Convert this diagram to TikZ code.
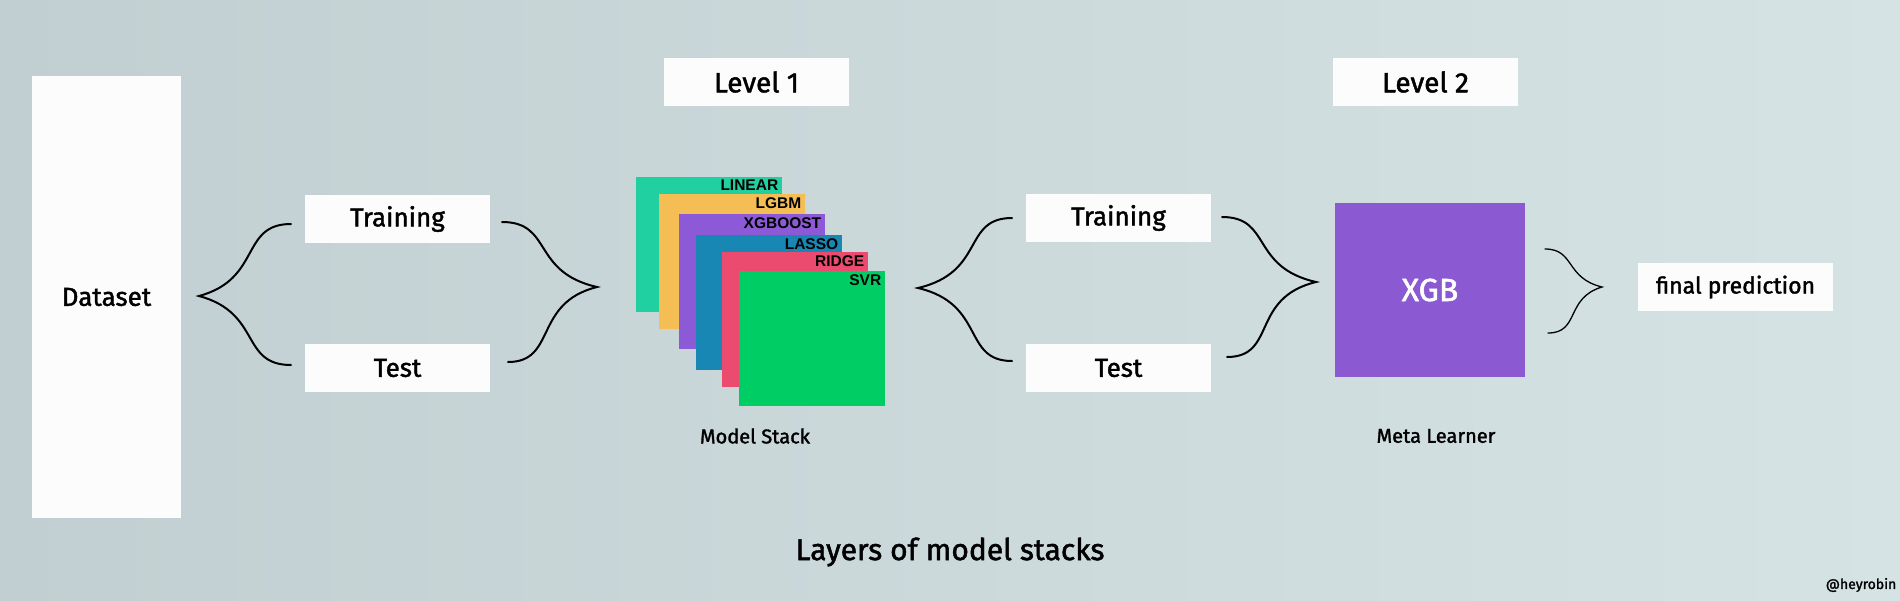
\documentclass[tikz,border=0pt]{standalone}
\usepackage{fontspec}
\setmainfont{Fira Sans}
\newfontfamily\hand[FakeBold=1.6]{Fira Sans}
\newfontfamily\lab{Liberation Sans}
\definecolor{bgL}{RGB}{193,207,210}
\definecolor{bgR}{RGB}{214,227,228}
\definecolor{boxw}{RGB}{252,252,252}
\definecolor{cLinear}{RGB}{32,208,160}
\definecolor{cLgbm}{RGB}{245,190,85}
\definecolor{cXgboost}{RGB}{140,90,215}
\definecolor{cLasso}{RGB}{25,135,180}
\definecolor{cRidge}{RGB}{235,75,110}
\definecolor{cSvr}{RGB}{0,205,100}
\definecolor{cXgb}{RGB}{139,90,210}
\tikzset{
  wbox/.style={rectangle, fill=boxw, inner sep=0pt, minimum width=185pt, minimum height=48pt, font=\hand\fontsize{26}{30}\selectfont},
  card/.style={rectangle, inner sep=0pt, minimum width=146pt, minimum height=135pt, anchor=north west},
  cardlab/.style={anchor=north east, inner sep=0pt, font=\lab\bfseries\fontsize{15.5}{17}\selectfont},
  brace/.style={draw=black, line width=2pt, line cap=round},
  sbrace/.style={draw=black, line width=1.3pt, line cap=round},
  caption/.style={inner sep=0pt, font=\hand\fontsize{20}{24}\selectfont}
}
\begin{document}
\begin{tikzpicture}[x=1pt,y=-1pt]
\useasboundingbox (0,0) rectangle (1900,600);
\shade[left color=bgL, right color=bgR] (0,0) rectangle (1900,600);

% white boxes
\node[wbox, minimum width=149pt, minimum height=442pt] (dataset) at (106.5,297) {Dataset};
\node[wbox] (train1) at (397.5,219) {Training};
\node[wbox] (test1) at (397.5,368) {Test};
\node[wbox, font=\hand\fontsize{28}{32}\selectfont] (level1) at (756.5,82) {Level 1};
\node[wbox, font=\hand\fontsize{28}{32}\selectfont] (level2) at (1425.5,82) {Level 2};
\node[wbox] (train2) at (1118.5,218) {Training};
\node[wbox] (test2) at (1118.5,368) {Test};
\node[rectangle, fill=cXgb, inner sep=0pt, minimum width=190pt, minimum height=174pt, text=white, font=\hand\fontsize{32}{36}\selectfont] (xgb) at (1430,290) {XGB};
\node[wbox, minimum width=195pt, font=\hand\fontsize{23}{27}\selectfont] (final) at (1735.5,287) {final prediction};

% model stack cards
\node[card, fill=cLinear] (linear) at (636,177) {};
\node[cardlab] at ([xshift=-4pt,yshift=-3pt]linear.north east) {LINEAR};
\node[card, fill=cLgbm] (lgbm) at (659,194) {};
\node[cardlab] at ([xshift=-4pt,yshift=-3pt]lgbm.north east) {LGBM};
\node[card, fill=cXgboost] (xgboost) at (679,214) {};
\node[cardlab] at ([xshift=-4pt,yshift=-3pt]xgboost.north east) {XGBOOST};
\node[card, fill=cLasso] (lasso) at (696,235) {};
\node[cardlab] at ([xshift=-4pt,yshift=-3pt]lasso.north east) {LASSO};
\node[card, fill=cRidge] (ridge) at (722,252) {};
\node[cardlab] at ([xshift=-4pt,yshift=-3pt]ridge.north east) {RIDGE};
\node[card, fill=cSvr] (svr) at (739,271) {};
\node[cardlab] at ([xshift=-4pt,yshift=-3pt]svr.north east) {SVR};

% captions
\node[caption] (mstack) at (755,436) {Model Stack};
\node[caption] (meta) at (1436,436) {Meta Learner};
\node[caption, font=\hand\fontsize{30}{34}\selectfont] (title) at (950,552) {Layers of model stacks};
\node[caption, font=\hand\fontsize{14}{16}\selectfont] (credit) at (1861,585) {@heyrobin};

% brace coordinates
\coordinate (b1t) at (291,224); \coordinate (b1p) at (199,296); \coordinate (b1b) at (291,365);
\coordinate (b2t) at (502,222); \coordinate (b2p) at (597,287); \coordinate (b2b) at (508,362);
\coordinate (b3t) at (1012,218); \coordinate (b3p) at (918,288); \coordinate (b3b) at (1012,361);
\coordinate (b4t) at (1222,217); \coordinate (b4p) at (1316,282); \coordinate (b4b) at (1227,357);
\coordinate (b5t) at (1545,249); \coordinate (b5p) at (1602,287); \coordinate (b5b) at (1548,333);

% braces
\draw[brace] (b1t) .. controls (240,224) and (262,279) .. (b1p)
             .. controls (262,313) and (240,365) .. (b1b);
\draw[brace] (b2t) .. controls (553,222) and (531,272) .. (b2p)
             .. controls (533,303) and (557,362) .. (b2b);
\draw[brace] (b3t) .. controls (962,218) and (986,272) .. (b3p)
             .. controls (986,304) and (962,361) .. (b3b);
\draw[brace] (b4t) .. controls (1272,217) and (1250,267) .. (b4p)
             .. controls (1250,298) and (1277,357) .. (b4b);
\draw[sbrace] (b5t) .. controls (1575,249) and (1565,278) .. (b5p)
             .. controls (1565,298) and (1580,333) .. (b5b);
\end{tikzpicture}
\end{document}
